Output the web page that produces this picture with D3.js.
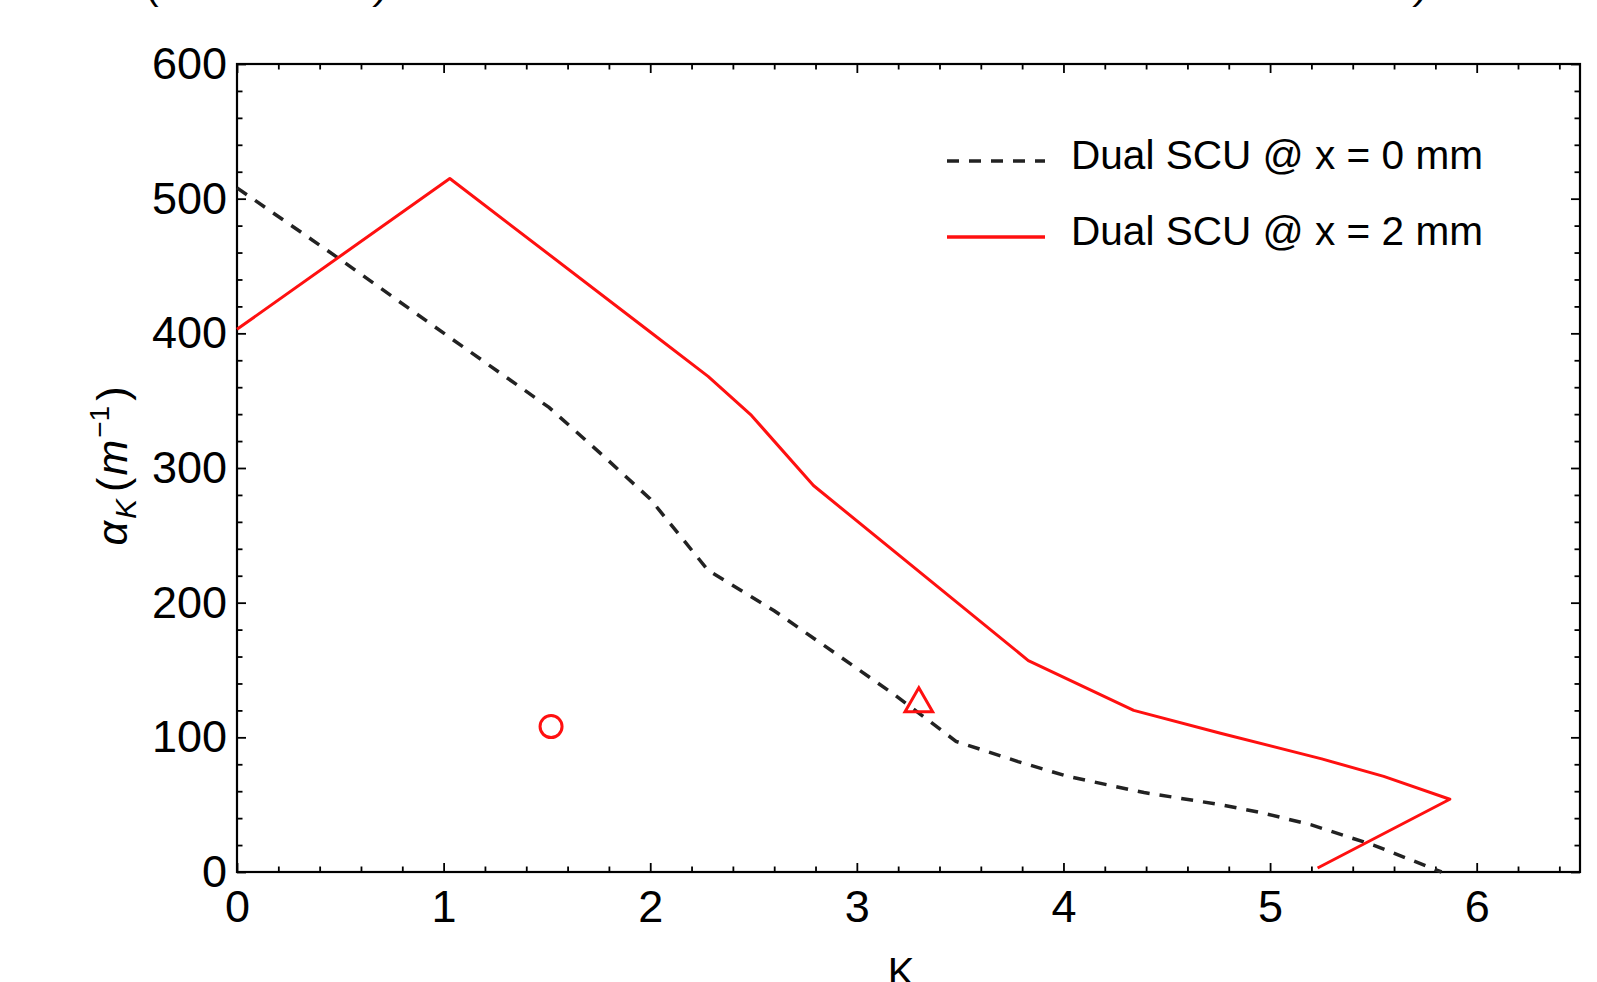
<!DOCTYPE html>
<html>
<head>
<meta charset="utf-8">
<script src="https://cdn.jsdelivr.net/npm/d3@7"></script>
<style>
  body { margin: 0; background: #fff; }
  svg { display: block; font-family: "Liberation Sans", Arial, sans-serif; }
</style>
</head>
<body>
<div id="chart"></div>
<script>
// data
const xTicks = [0, 1, 2, 3, 4, 5, 6];
const yTicks = [0, 100, 200, 300, 400, 500, 600];
const seriesNames = ['Dual SCU @ x = 0 mm', 'Dual SCU @ x = 2 mm'];
const dualX0 = [[0, 508], [0.48, 457], [1.02, 398], [1.51, 345], [1.78, 308], [2.0, 277], [2.28, 224],
  [2.6, 194], [2.89, 163], [3.17, 133], [3.3, 118], [3.48, 97], [3.78, 82], [4.02, 71], [4.39, 59],
  [4.76, 50], [4.96, 44], [5.2, 35], [5.5, 20], [5.83, 0]];
const dualX2 = [[0, 403], [1.03, 515], [2.0, 401], [2.28, 368], [2.49, 339], [2.79, 287], [3.83, 157],
  [4.34, 120], [4.76, 103], [5.25, 84], [5.55, 71], [5.87, 54], [5.23, 3]];
const circlePt = [1.52, 108];
const trianglePt = [3.3, 125];

const width = 1597, height = 982;
const margin = { top: 64, right: 17, bottom: 110, left: 237 };

const svg = d3.select('#chart').append('svg')
  .attr('width', width).attr('height', height)
  .attr('viewBox', [0, 0, width, height]);

const xScale = d3.scaleLinear().domain([0, 6.5]).range([margin.left, width - margin.right]);
const yScale = d3.scaleLinear().domain([0, 600]).range([height - margin.bottom, margin.top]);

// clipped caption pieces from the figure above
svg.append('g').attr('font-size', 40).attr('text-anchor', 'middle')
  .selectAll('text').data([[152, '('], [383, ')'], [1423, ')']])
  .enter().append('text')
  .attr('x', d => d[0]).attr('y', -1)
  .attr('font-style', (d, i) => i > 0 ? 'italic' : null)
  .text(d => d[1]);

// minor ticks
const xMinor = d3.range(0, 6.51, 0.2).map(v => +v.toFixed(1)).filter(v => !xTicks.includes(v));
const yMinor = d3.range(0, 601, 20).filter(v => !yTicks.includes(v));

const bottomAxis = d3.axisBottom(xScale).tickValues(xTicks).tickSize(-9).tickPadding(18).tickFormat(d3.format('d'));
const leftAxis = d3.axisLeft(yScale).tickValues(yTicks).tickSize(-9).tickPadding(10).tickFormat(d3.format('d'));

const xAxisG = svg.append('g').attr('transform', `translate(0,${yScale(0)})`).call(bottomAxis);
const yAxisG = svg.append('g').attr('transform', `translate(${xScale(0)},0)`).call(leftAxis);
svg.append('g').attr('transform', `translate(0,${yScale(0)})`)
  .call(d3.axisBottom(xScale).tickValues(xMinor).tickSize(-5.5).tickFormat(''));
svg.append('g').attr('transform', `translate(${xScale(0)},0)`)
  .call(d3.axisLeft(yScale).tickValues(yMinor).tickSize(-5.5).tickFormat(''));
svg.append('g').attr('transform', `translate(0,${yScale(600)})`)
  .call(d3.axisTop(xScale).tickValues(xTicks).tickSize(-9).tickFormat(''));
svg.append('g').attr('transform', `translate(0,${yScale(600)})`)
  .call(d3.axisTop(xScale).tickValues(xMinor).tickSize(-5.5).tickFormat(''));
svg.append('g').attr('transform', `translate(${xScale(6.5)},0)`)
  .call(d3.axisRight(yScale).tickValues(yTicks).tickSize(-9).tickFormat(''));
svg.append('g').attr('transform', `translate(${xScale(6.5)},0)`)
  .call(d3.axisRight(yScale).tickValues(yMinor).tickSize(-5.5).tickFormat(''));

svg.selectAll('.domain').remove();
svg.selectAll('.tick line').attr('stroke', '#000').attr('stroke-width', 1.8);
svg.selectAll('.tick text').attr('font-size', 45).attr('fill', '#000')
  .attr('font-family', '"Liberation Sans", Arial, sans-serif');

svg.append('rect')
  .attr('x', xScale(0)).attr('y', yScale(600))
  .attr('width', xScale(6.5) - xScale(0)).attr('height', yScale(0) - yScale(600))
  .attr('fill', 'none').attr('stroke', '#000').attr('stroke-width', 2.2);

// curves
const line = d3.line().x(d => xScale(d[0])).y(d => yScale(d[1]));
const plotG = svg.append('g');
plotG.append('path').datum(dualX0)
  .attr('d', line).attr('fill', 'none')
  .attr('stroke', '#222').attr('stroke-width', 3.5)
  .attr('stroke-dasharray', '12,10');
plotG.append('path').datum(dualX2)
  .attr('d', line).attr('fill', 'none')
  .attr('stroke', '#ff1010').attr('stroke-width', 3).attr('stroke-linejoin', 'round');

plotG.append('circle')
  .attr('cx', xScale(circlePt[0])).attr('cy', yScale(circlePt[1])).attr('r', 11)
  .attr('fill', 'none').attr('stroke', '#ff1010').attr('stroke-width', 3);
plotG.append('path')
  .attr('d', d3.symbol(d3.symbolTriangle, 330)())
  .attr('transform', `translate(${xScale(trianglePt[0])},${yScale(trianglePt[1])})`)
  .attr('fill', 'none').attr('stroke', '#ff1010').attr('stroke-width', 3);

// legend
const legend = svg.append('g');
const legendRows = legend.selectAll('g').data(seriesNames).enter().append('g')
  .attr('transform', (d, i) => `translate(947,${161 + i * 76})`);
legendRows.append('line')
  .attr('x1', 0).attr('x2', 98)
  .attr('stroke', (d, i) => i === 0 ? '#222' : '#ff1010')
  .attr('stroke-width', 3.5)
  .attr('stroke-dasharray', (d, i) => i === 0 ? '12,10' : null);
legendRows.append('text')
  .attr('x', 124).attr('y', 8)
  .attr('font-size', 41).attr('fill', '#000')
  .attr('textLength', 412).attr('lengthAdjust', 'spacingAndGlyphs')
  .text(d => d);

// axis labels
svg.append('text')
  .attr('x', 901).attr('y', 986)
  .attr('text-anchor', 'middle').attr('font-size', 40)
  .text('K');

const yLabel = svg.append('text')
  .attr('transform', `translate(127,${(yScale(0) + yScale(600)) / 2 - 2}) rotate(-90)`)
  .attr('text-anchor', 'middle').attr('font-size', 43);
yLabel.append('tspan').attr('font-style', 'italic').text('α');
yLabel.append('tspan').attr('font-style', 'italic').attr('font-size', 30).attr('dy', 9).attr('dx', 2).text('K');
yLabel.append('tspan').attr('dy', -9).attr('dx', 7).text('(');
yLabel.append('tspan').attr('font-style', 'italic').attr('dx', 2).text('m');
yLabel.append('tspan').attr('font-size', 28).attr('dy', -18).attr('dx', 2).text('−1');
yLabel.append('tspan').attr('dy', 18).attr('dx', 5).text(')');
</script>
</body>
</html>
